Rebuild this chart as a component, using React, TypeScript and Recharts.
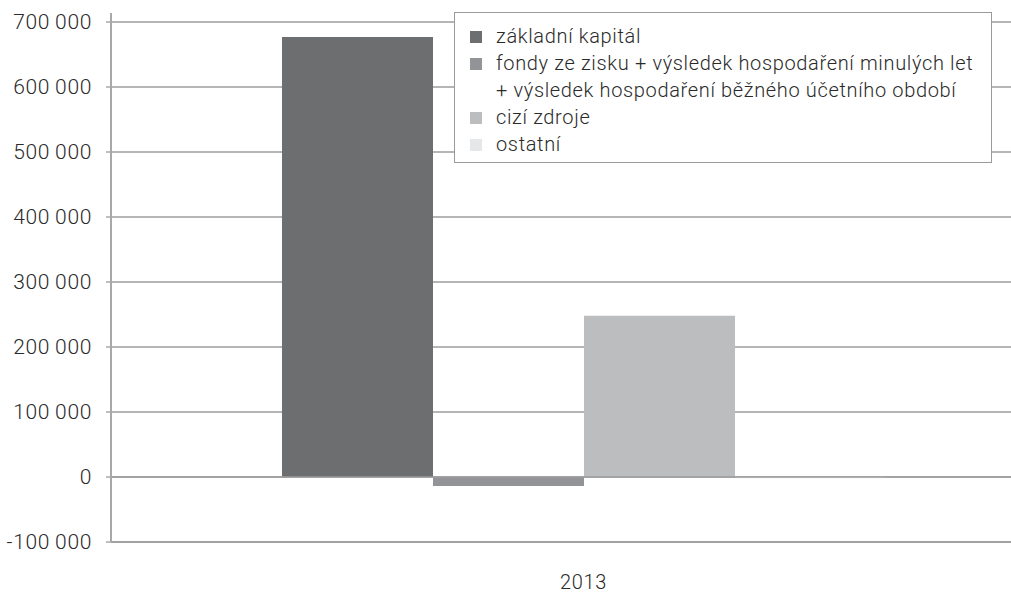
import React from 'react';
import { BarChart, Bar, XAxis, YAxis, CartesianGrid, Legend, ReferenceLine } from 'recharts';

const categories = ['2013'];
const zakladniKapital = [677000];
const fondyVysledek = [-14000];
const ciziZdroje = [248000];
const ostatni = [-2000];
const yTicks = [-100000, 0, 100000, 200000, 300000, 400000, 500000, 600000, 700000];

const seriesNames = [
  'základní kapitál',
  'fondy ze zisku + výsledek hospodaření minulých let\n+ výsledek hospodaření běžného účetního období',
  'cizí zdroje',
  'ostatní',
];
const seriesColors = ['#6d6e70', '#939497', '#bcbdbf', '#e6e7e8'];

const data = categories.map((c, i) => ({
  year: c,
  s0: zakladniKapital[i],
  s1: fondyVysledek[i],
  s2: ciziZdroje[i],
  s3: ostatni[i],
}));

const FONT = 'Roboto, "Liberation Sans", sans-serif';
const LS = '0.65px';

const fmt = (v: number) => {
  const neg = v < 0;
  const s = Math.abs(v).toString().replace(/\B(?=(\d{3})+(?!\d))/g, '\u2009');
  return (neg ? '-' : '') + s;
};

const renderLegend = (props: any) => {
  const payload = [...(props.payload || [])].sort(
    (a: any, b: any) => seriesNames.indexOf(a.value) - seriesNames.indexOf(b.value)
  );
  return (
    <div
      style={{
        border: '1.5px solid #9a9a9a',
        background: '#fff',
        padding: '10px 12px 6px 15px',
        boxSizing: 'border-box',
        width: 538,
        height: 151,
        fontFamily: FONT,
        fontWeight: 300,
        fontSize: 20,
        letterSpacing: LS,
        color: '#2a2a2a',
      }}
    >
      {payload.map((p: any, i: number) => (
        <div key={i} style={{ display: 'flex', alignItems: 'flex-start', lineHeight: '27px' }}>
          <span
            style={{
              display: 'inline-block',
              width: 12,
              height: 12,
              background: p.color,
              marginTop: 8,
              marginRight: 14,
              flex: '0 0 auto',
            }}
          />
          <span style={{ whiteSpace: 'pre-line' }}>{p.value}</span>
        </div>
      ))}
    </div>
  );
};

export default function App() {
  return (
    <div style={{ position: 'absolute', left: 0, top: 0, width: 1011, height: 593, overflow: 'hidden', background: '#fff' }}>
      <BarChart
        width={1056}
        height={593}
        data={data}
        margin={{ top: 13, right: 0, bottom: 0, left: 0 }}
        barCategoryGap={171}
        barGap={0}
      >
        <CartesianGrid vertical={false} stroke="#9d9d9d" strokeWidth={1.5} horizontalValues={yTicks} />
        <XAxis
          dataKey="year"
          height={51}
          tickLine={false}
          tickSize={0}
          tickMargin={33}
          axisLine={{ stroke: '#9d9d9d', strokeWidth: 1.5 }}
          tick={{ fill: '#2a2a2a', fontSize: 20, fontFamily: FONT, fontWeight: 300, letterSpacing: LS }}
        />
        <YAxis
          width={111}
          domain={[-100000, 713846]}
          ticks={yTicks}
          interval={0}
          tickSize={5}
          tickMargin={14}
          tickFormatter={fmt}
          axisLine={{ stroke: '#a8a8a8', strokeWidth: 2 }}
          tickLine={{ stroke: '#a8a8a8', strokeWidth: 1.5 }}
          tick={{ fill: '#2a2a2a', fontSize: 21, fontFamily: FONT, fontWeight: 300, letterSpacing: LS }}
        />
        <ReferenceLine y={0} stroke="#9d9d9d" strokeWidth={1.5} />
        <Legend
          layout="vertical"
          align="center"
          verticalAlign="middle"
          content={renderLegend}
          wrapperStyle={{ left: 454, top: 12, width: 538 }}
        />
        <Bar dataKey="s0" name={seriesNames[0]} fill={seriesColors[0]} isAnimationActive={false} />
        <Bar dataKey="s1" name={seriesNames[1]} fill={seriesColors[1]} isAnimationActive={false} />
        <Bar dataKey="s2" name={seriesNames[2]} fill={seriesColors[2]} isAnimationActive={false} />
        <Bar dataKey="s3" name={seriesNames[3]} fill={seriesColors[3]} isAnimationActive={false} />
      </BarChart>
    </div>
  );
}
